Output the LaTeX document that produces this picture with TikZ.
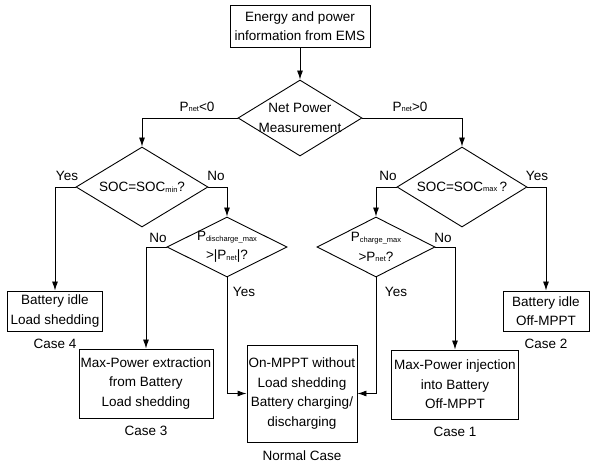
\documentclass[tikz,border=0pt]{standalone}
\usepackage{fontspec}
\setmainfont{Liberation Sans}
\usetikzlibrary{arrows.meta,positioning,shapes.geometric}
\newcommand{\subtxt}[1]{\raisebox{-0.6pt}{\fontsize{7.5}{8}\selectfont #1}}

\begin{document}
\begin{tikzpicture}[
x=1pt,y=-1pt,
font=\fontsize{13.5}{19.5}\selectfont,
flow/.style={-{Latex[length=9pt,width=6pt]},line width=0.9pt},
block/.style={draw,line width=0.9pt,rectangle,align=center,inner sep=0pt},
decision/.style={draw,line width=0.9pt,diamond,align=center,inner xsep=-30pt,inner ysep=-12pt},
tag/.style={inner sep=0pt}]
    \useasboundingbox (0,0) rectangle (590,468);

    % Top and decisions
    \node[block,minimum width=140,minimum height=42] (ems) at (300,26) {Energy and power\\information from EMS};
    \node[decision,minimum width=124,minimum height=76] (net) at (300,118) {Net Power\\Measurement};
    \node[decision,minimum width=132,minimum height=80] (socmin) at (142,187) {SOC=SOC\subtxt{min}?};
    \node[decision,minimum width=130,minimum height=80] (socmax) at (462,187) {SOC=SOC\subtxt{max}\,?};
    \node[decision,minimum width=120,minimum height=60] (dis) at (227,247) {P\subtxt{discharge\_max}\\>|P\subtxt{net}|?};
    \node[decision,minimum width=118,minimum height=60] (chg) at (376,247) {P\subtxt{charge\_max}\\>P\subtxt{net}?};

    % Cases
    \node[block,minimum width=95,minimum height=40] (idleload) at (55,311) {Battery idle\\Load shedding};
    \node[block,minimum width=134,minimum height=69] (extract) at (146,383.5) {Max-Power extraction\\from Battery\\Load shedding};
    \node[block,minimum width=110,minimum height=97] (normal) at (302,393.5) {On-MPPT without\\Load shedding\\Battery charging/\\discharging};
    \node[block,minimum width=127,minimum height=69] (inject) at (455,384.5) {Max-Power injection\\into Battery\\Off-MPPT};
    \node[block,minimum width=86,minimum height=40] (idlempt) at (546,311) {Battery idle\\Off-MPPT};

    \node[below=4pt of idleload] (case4) {Case 4};
    \node[below=4pt of extract] (case3) {Case 3};
    \node[below=5pt of normal] (casen) {Normal Case};
    \node[below=4pt of inject] (case1) {Case 1};
    \node[below=4pt of idlempt] (case2) {Case 2};

    % Branch labels
    \node[tag] (pneg) at (197,107) {P\subtxt{net}<0};
    \node[tag] (ppos) at (410,107) {P\subtxt{net}>0};
    \node[tag] (minyes) at (67,176) {Yes};
    \node[tag] (minno) at (216,176) {No};
    \node[tag] (disno) at (158,238) {No};
    \node[tag] (disyes) at (244,292) {Yes};
    \node[tag] (maxno) at (388,176) {No};
    \node[tag] (maxyes) at (537,176) {Yes};
    \node[tag] (chgno) at (443,238) {No};
    \node[tag] (chgyes) at (396,292) {Yes};

    % Connectors
    \draw[flow] (ems.south) -- (net.north);
    \draw[flow] (net.west) -| (socmin.north);
    \draw[flow] (net.east) -| (socmax.north);
    \draw[flow] (socmin.west) -| (idleload.north);
    \draw[flow] (socmin.east) -| (dis.north);
    \draw[flow] (dis.west) -| (extract.north);
    \draw[flow] (dis.south) |- (normal.west);
    \draw[flow] (socmax.west) -| (chg.north);
    \draw[flow] (socmax.east) -| (idlempt.north);
    \draw[flow] (chg.east) -| (inject.north);
    \draw[flow] (chg.south) |- (normal.east);
\end{tikzpicture}
\end{document}
